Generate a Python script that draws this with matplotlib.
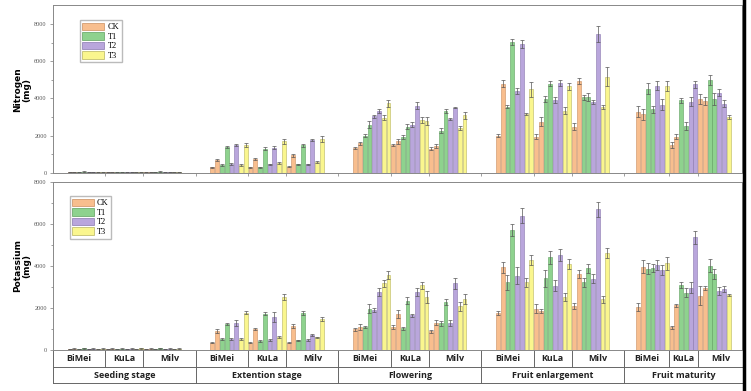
import numpy as np
import matplotlib.pyplot as plt
from matplotlib.patches import Patch
from matplotlib.transforms import blended_transform_factory

# ---- data (mg) ----
stages = ['Seeding stage', 'Extention stage', 'Flowering', 'Fruit enlargement', 'Fruit maturity']
varieties = ['BiMei', 'KuLa', 'Milv']
treatments = ['CK', 'T1', 'T2', 'T3']

# bar order in each variety: CK, CK, T1, T1, T2, T2, T3, T3
pattern8 = ['CK', 'CK', 'T1', 'T1', 'T2', 'T2', 'T3', 'T3']
# fruit maturity has fewer bars per variety
pattern_mat = (['CK', 'CK', 'T1', 'T1', 'T2', 'T2', 'T3'] +
               ['CK', 'CK', 'T1', 'T1', 'T2', 'T2'] +
               ['CK', 'CK', 'T1', 'T1', 'T2', 'T2', 'T3'])

n_seed = [40, 70, 45, 75, 40, 65, 45, 70, 40, 65, 45, 70, 40, 65, 45, 70, 40, 70, 45, 75, 40, 65, 45, 65]
n_ext = [300, 680, 430, 1400, 480, 1490, 430, 1520,
         300, 750, 300, 1310, 465, 1360, 540, 1700,
         340, 950, 465, 1490, 465, 1770, 570, 1810]
n_flow = [1340, 1590, 1990, 2600, 3040, 3330, 2970, 3740,
          1520, 1700, 1930, 2490, 2600, 3620, 2850, 2790,
          1310, 1450, 2270, 3330, 2900, 3510, 2420, 3100]
n_enl = [2000, 4800, 3560, 7020, 4400, 6930, 3170, 4490,
         1950, 2760, 3960, 4800, 3920, 4820, 3350, 4650,
         2490, 4940, 4060, 4080, 3830, 7460, 3540, 5170]
n_mat = [3290, 3150, 4530, 3420, 4690, 3670, 4670,
         1500, 1950, 3900, 2520, 3830, 4760,
         3970, 3870, 4990, 3970, 4310, 3720, 2990]

n_seed_err = [10] * 24
n_ext_err = [30, 60, 40, 60, 40, 60, 40, 100, 30, 60, 30, 80, 40, 80, 50, 150, 30, 80, 40, 80, 40, 60, 50, 170]
n_flow_err = [40, 80, 80, 200, 100, 120, 120, 180, 60, 120, 100, 120, 120, 170, 170, 200, 60, 120, 120, 130, 40, 40, 120, 200]
n_enl_err = [80, 200, 80, 150, 150, 200, 70, 400, 150, 250, 150, 150, 150, 160, 200, 200, 200, 150, 150, 200, 100, 450, 120, 500]
n_mat_err = [300, 300, 300, 200, 250, 300, 250, 150, 150, 150, 200, 250, 200, 250, 200, 250, 300, 200, 200, 100]

k_seed = [40, 70, 45, 80, 40, 65, 45, 70, 45, 65, 45, 70, 40, 65, 45, 75, 45, 70, 45, 75, 40, 65, 45, 65]
k_ext = [350, 900, 510, 1250, 540, 1300, 510, 1780,
         350, 1000, 430, 1730, 480, 1570, 635, 2520,
         350, 1140, 460, 1750, 480, 730, 600, 1480]
k_flow = [980, 1110, 1100, 1970, 1900, 2760, 3170, 3570,
          1080, 1710, 1030, 2350, 1650, 2750, 3080, 2520,
          900, 1300, 1270, 2290, 1270, 3170, 2080, 2440]
k_enl = [1780, 3940, 3220, 5710, 3540, 6400, 3220, 4280,
         1970, 1840, 3410, 4410, 3060, 4520, 2520, 4090,
         2110, 3630, 3220, 3890, 3400, 6700, 2410, 4630]
k_mat = [2060, 3970, 3870, 3900, 4050, 3810, 4130,
         1080, 2130, 3110, 2730, 2970, 5360,
         2590, 2940, 4020, 3620, 2820, 2900, 2620]

k_seed_err = [10] * 24
k_ext_err = [30, 80, 40, 50, 40, 150, 40, 80, 30, 60, 40, 80, 40, 230, 50, 150, 30, 90, 40, 100, 40, 50, 40, 100]
k_flow_err = [60, 150, 60, 200, 100, 200, 170, 170, 100, 200, 60, 170, 80, 180, 180, 300, 70, 120, 120, 150, 150, 250, 220, 250]
k_enl_err = [100, 250, 350, 300, 400, 350, 200, 250, 200, 100, 400, 300, 250, 300, 200, 250, 150, 200, 200, 200, 200, 350, 150, 250]
k_mat_err = [200, 300, 250, 200, 250, 250, 300, 80, 80, 150, 200, 250, 300, 450, 100, 300, 250, 200, 150, 50]

colors = {'CK': '#F8BE8E', 'T1': '#8ED28E', 'T2': '#B9A6DC', 'T3': '#FAF68E'}
edges = {'CK': '#C98E60', 'T1': '#5FA05F', 'T2': '#8A78AE', 'T3': '#B8B460'}

# ---- x layout (slot units) ----
def positions():
    pos = []
    for s in range(4):
        pos.append(s * 30 + 3.5 + np.arange(24))
    pos.append(123 + np.arange(20))
    return pos

var_seps = [[s * 30 + 11, s * 30 + 19] for s in range(4)] + [[129.5, 135.5]]
stage_edges = [0, 30, 60, 90, 120, 145]
XMAX = 144.8

fig = plt.figure(figsize=(7.51, 3.91), dpi=100)
ax1 = fig.add_axes([53 / 751, 1 - 173 / 391, 689 / 751, 168 / 391])
ax2 = fig.add_axes([53 / 751, 1 - 350 / 391, 689 / 751, 168 / 391])


def draw_panel(ax, vals, errs, ymax):
    pos = positions()
    for s in range(5):
        pat = pattern8 * 3 if s < 4 else pattern_mat
        for x, v, e, t in zip(pos[s], vals[s], errs[s], pat):
            ax.bar(x, v, width=0.8, color=colors[t], edgecolor=edges[t], linewidth=0.4)
            ax.errorbar(x, v, yerr=e, color='#555555', lw=0.5, capsize=1.2, capthick=0.5)
    ax.set_xlim(0, XMAX)
    ax.set_ylim(0, ymax)
    ax.set_yticks([0, 2000, 4000, 6000, 8000])
    ax.set_yticks(np.arange(1000, 9000, 2000), minor=True)
    ax.tick_params(axis='y', which='major', direction='out', length=2.5, width=0.5,
                   labelsize=4.5, colors='#777777', pad=2)
    ax.tick_params(axis='y', which='minor', direction='out', length=1.5, width=0.5, colors='#777777')
    for sp in ax.spines.values():
        sp.set_color('#888888')
        sp.set_linewidth(0.7)
    for lab in ax.get_yticklabels():
        lab.set_family('Liberation Serif')
        lab.set_color('#555555')
    handles = [Patch(facecolor=colors[t], edgecolor=edges[t], linewidth=0.5, label=t) for t in treatments]
    return handles


h = draw_panel(ax1, [n_seed, n_ext, n_flow, n_enl, n_mat],
               [n_seed_err, n_ext_err, n_flow_err, n_enl_err, n_mat_err], 9020)
draw_panel(ax2, [k_seed, k_ext, k_flow, k_enl, k_mat],
           [k_seed_err, k_ext_err, k_flow_err, k_enl_err, k_mat_err], 8000)

# top panel x ticks at group separators
sep_ticks = sorted(set([x for vs in var_seps for x in vs] + stage_edges[1:5]))
ax1.set_xticks(sep_ticks)
ax1.set_xticklabels([])
ax1.tick_params(axis='x', direction='out', length=2.5, width=0.5, colors='#777777')
ax2.set_xticks([])

leg_kw = dict(loc='upper left', prop={'family': 'Liberation Serif', 'size': 6},
              handlelength=2.6, handleheight=1.0, labelspacing=0.12, borderpad=0.3,
              handletextpad=0.4, fancybox=False, framealpha=1, edgecolor='#bbbbbb')
ax1.legend(handles=h, bbox_to_anchor=(0.033, 0.935), **leg_kw)
ax2.legend(handles=h, bbox_to_anchor=(0.018, 0.94), **leg_kw)

fig.text(22 / 751, 1 - 90 / 391, 'Nitrogen\n(mg)', rotation=90, ha='center', va='center',
         fontsize=6.5, fontweight='bold', linespacing=1.1)
fig.text(22 / 751, 1 - 266 / 391, 'Potassium\n(mg)', rotation=90, ha='center', va='center',
         fontsize=6.5, fontweight='bold', linespacing=1.1)

# category table under the bottom panel
tr = blended_transform_factory(ax2.transData, ax2.transAxes)
r1 = -17 / 168
r2 = -33 / 168
lkw = dict(color='#666666', lw=0.7, transform=tr, clip_on=False)
ax2.plot([0, XMAX], [r1, r1], **lkw)
ax2.plot([0, XMAX], [r2, r2], **lkw)
for x in stage_edges[:5]:
    ax2.plot([x, x], [0, r2], **lkw)
for s in range(5):
    left = stage_edges[s]
    bounds = [left] + var_seps[s] + [stage_edges[s + 1]]
    for x in var_seps[s]:
        ax2.plot([x, x], [0, r1], **lkw)
    for v in range(3):
        ax2.text((bounds[v] + bounds[v + 1]) / 2, r1 / 2, varieties[v], transform=tr,
                 ha='center', va='center', fontsize=6.5, fontweight='bold', family='Open Sans',
                 color='#222222')
    cx = (left + min(stage_edges[s + 1], XMAX + 1.5)) / 2
    ax2.text(cx, (r1 + r2) / 2, stages[s], transform=tr, ha='center', va='center',
             fontsize=6.5, fontweight='bold', family='Open Sans', color='#222222')

# dark border line at the right edge of the cropped original
fig.add_artist(plt.Line2D([744 / 751, 744 / 751], [0, 1], color='black', lw=2.5,
                          transform=fig.transFigure))

fig.savefig('out.png', dpi=100)
